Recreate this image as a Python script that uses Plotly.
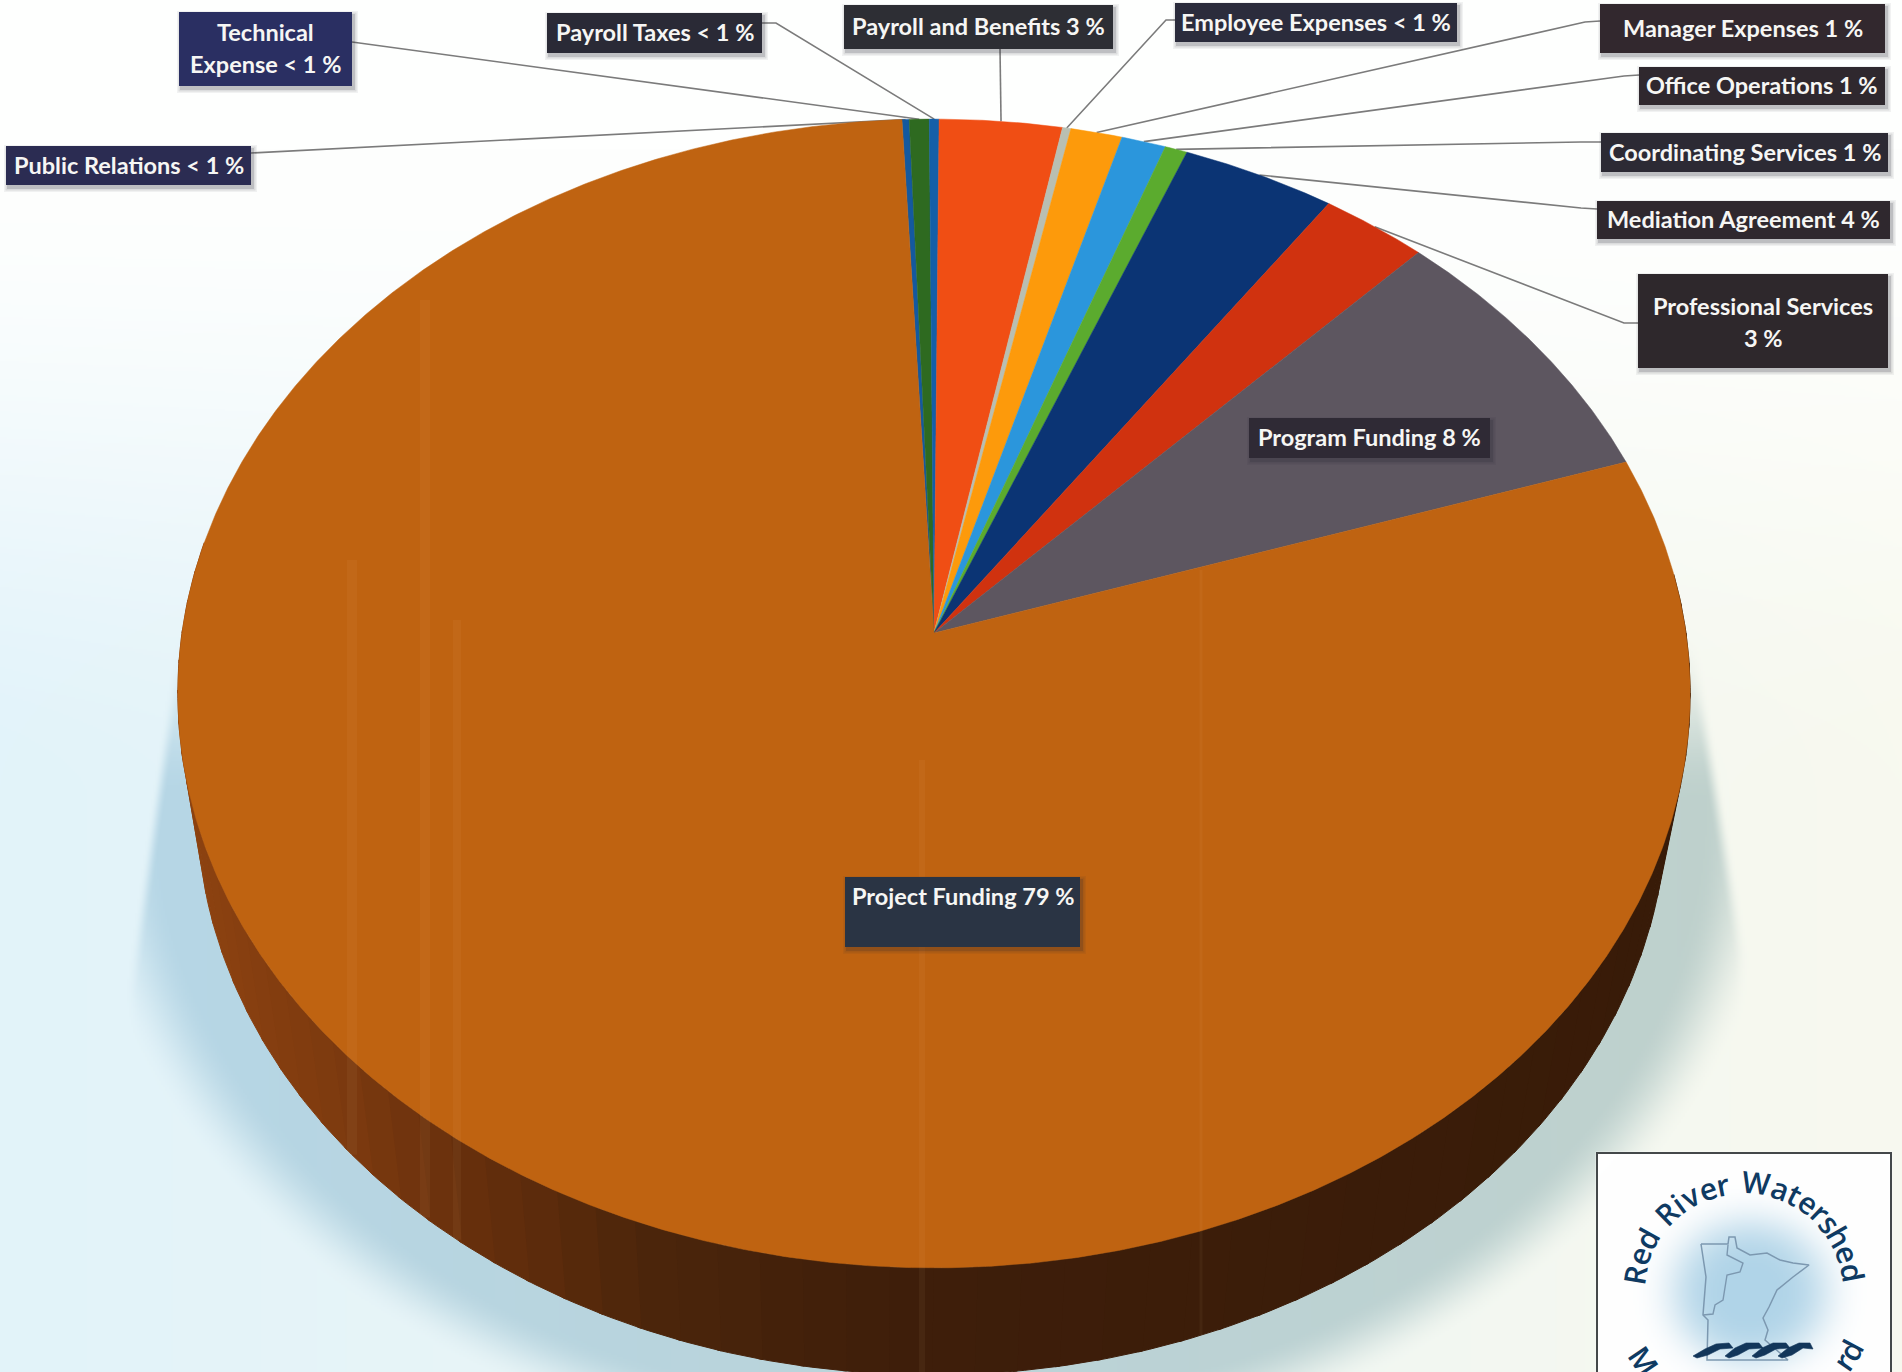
import base64
import math
import struct
import zlib

import numpy as np
import plotly.graph_objects as go

WIDTH, HEIGHT = 1902, 1372

# ---- budget shares, clockwise from the start of Public Relations ----
categories = [
    "Public Relations", "Technical Expense", "Payroll Taxes", "Payroll and Benefits",
    "Employee Expenses", "Manager Expenses", "Office Operations", "Coordinating Services",
    "Mediation Agreement", "Professional Services", "Program Funding", "Project Funding",
]
shares = [0.17, 0.47, 0.23, 2.90, 0.20, 1.22, 1.05, 0.53, 3.64, 2.53, 7.78, 79.30]
colors = [
    "#14599f", "#2e6a20", "#145fa8", "#f04e14", "#b9bfb2", "#fd9a0b",
    "#2b96dc", "#5bab2e", "#0b3474", "#d0320f", "#5d5660", "#bf6311",
]
start_angle = -2.7

label_texts = [
    ["Public Relations &lt; 1 %"], ["Technical", "Expense &lt; 1 %"], ["Payroll Taxes &lt; 1 %"],
    ["Payroll and Benefits 3 %"], ["Employee Expenses &lt; 1 %"], ["Manager Expenses 1 %"],
    ["Office Operations 1 %"], ["Coordinating Services 1 %"], ["Mediation Agreement 4 %"],
    ["Professional Services", "3 %"], ["Program Funding 8 %"], ["Project Funding 79 %"],
]
# left, top, right, bottom of each tag
label_boxes = [
    (6, 146, 251, 185), (179, 12, 352, 86), (547, 13, 762, 53), (844, 5, 1113, 49),
    (1175, 3, 1457, 42), (1600, 4, 1885, 53), (1639, 67, 1885, 105), (1601, 133, 1888, 172),
    (1597, 201, 1890, 239), (1638, 274, 1888, 368), (1249, 418, 1490, 458), (845, 877, 1080, 947),
]
label_fills = [
    "#2b2c52", "#2a2f62", "#2a2a36", "#2d2e34", "#2b2c3c", "#32282e",
    "#2f282e", "#2c2a34", "#2f282e", "#2e282c", "#2f2a35", "#2a3444",
]
label_text_y = [
    [165], [32, 64], [32], [26], [22], [28], [85], [152], [219], [306, 338], [437], [896],
]
# leader start on the tag and its elbow; None where a slice carries its own tag
leader_paths = [
    [(251, 153)], [(352, 42)], [(762, 23), (776, 23)], [(1000, 49)],
    [(1175, 20), (1166, 20)], [(1600, 21), (1585, 22)], [(1639, 75), (1624, 76)],
    [(1601, 142), (1581, 142)], [(1597, 209), (1581, 208)], [(1638, 323), (1624, 323)],
    None, None,
]

# ---- tilted disc: a circle seen in perspective ----
APEX_X, APEX_Y = 934.0, 633.0
SCALE_X, SCALE_Y, TILT = 752.0, 568.0, 0.1053
RIM_CX, RIM_CY = 934.0, 693.5
LOWER_CX, LOWER_CY, LOWER_RX, LOWER_RY = 932.0, 804.0, 735.0, 571.0

# pale vertical banding across the disc: x position, width, first row
band_x = [352, 425, 457, 922, 1201]
band_w = [10, 10, 8, 6, 3]
band_top = [560, 300, 620, 760, 570]


def project(theta_deg):
    t = np.radians(theta_deg)
    u, v = np.sin(t), np.cos(t)
    s = 1 + TILT * v
    return APEX_X + SCALE_X * u / s, APEX_Y - SCALE_Y * v / s


def lower_rim(theta_deg):
    x, y = project(theta_deg)
    return (LOWER_CX + (x - RIM_CX) * LOWER_RX / 756.0,
            LOWER_CY + (y - RIM_CY) * LOWER_RY / 574.5)


def lerp_stops(stops, x):
    xs = [s[0] for s in stops]
    return [float(np.interp(x, xs, [s[1][i] for s in stops])) for i in range(3)]


# ---- paper tone, cast shadow and the white logo panel as one bitmap ----
def smooth(a, b, x):
    t = np.clip((x - a) / (b - a), 0, 1)
    return t * t * (3 - 2 * t)


def paper_bitmap():
    h, w = HEIGHT // 2, WIDTH // 2
    yy, xx = np.mgrid[0:h, 0:w]
    xx = xx * 2.0 + 1
    yy = yy * 2.0 + 1
    tx = (xx / WIDTH)[..., None]
    lower = np.array([226, 243, 250.0]) * (1 - tx) + np.array([248, 249, 239.0]) * tx
    mix = smooth(150, 800, yy)[..., None]
    img = np.array([254, 255, 254.0]) * (1 - mix) + lower * mix

    d = np.sqrt(((xx - LOWER_CX) / LOWER_RX) ** 2 + ((yy - LOWER_CY) / LOWER_RY) ** 2)
    dist = (d - 1) * 700
    left_edge = 180 - np.clip(yy - 650, 0, 340) * 0.141
    right_edge = 1690 + np.clip(yy - 636, 0, 320) * 0.16
    side = smooth(-7, 7, xx - left_edge) * smooth(-8, 8, right_edge - xx)
    fade = 1 - smooth(35, 115, dist)
    shade = 0.8 * fade * side * smooth(630, 800, yy)
    tone = np.array([170, 208, 228.0]) * (1 - tx) + np.array([178, 198, 192.0]) * tx
    img = img * (1 - shade[..., None]) + tone * shade[..., None]

    panel = (xx >= 1597) & (xx <= 1891) & (yy >= 1153)
    img[panel] = 255
    glow = np.exp(-(((xx - 1750) / 80) ** 2 + ((yy - 1292) / 74) ** 2) ** 2)[..., None]
    glow = glow * panel[..., None]
    img = img * (1 - glow) + np.array([176, 212, 232.0]) * glow
    return np.clip(img, 0, 255).astype(np.uint8)


def png_uri(rgb):
    h, w, _ = rgb.shape
    raw = b"".join(b"\x00" + rgb[i].tobytes() for i in range(h))

    def chunk(tag, data):
        body = tag + data
        return struct.pack(">I", len(data)) + body + struct.pack(">I", zlib.crc32(body))

    data = (
        b"\x89PNG\r\n\x1a\n"
        + chunk(b"IHDR", struct.pack(">IIBBBBB", w, h, 8, 2, 0, 0, 0))
        + chunk(b"IDAT", zlib.compress(raw, 9))
        + chunk(b"IEND", b"")
    )
    return "data:image/png;base64," + base64.b64encode(data).decode()


fig = go.Figure()

# slice boundaries in degrees
bounds = [start_angle]
for value in shares:
    bounds.append(bounds[-1] + value * 3.6)
bounds[-1] = start_angle + 360

# leader lines run under the disc and end on the rim at each slice's mid angle
for i, path in enumerate(leader_paths):
    if path is None:
        continue
    ex, ey = project((bounds[i] + bounds[i + 1]) / 2)
    xs = [p[0] for p in path] + [float(ex)]
    ys = [p[1] for p in path] + [float(ey)]
    fig.add_trace(go.Scatter(x=xs, y=ys, mode="lines", line=dict(color="#7b7b7b", width=1.6),
                             hoverinfo="skip", showlegend=False))

# side wall of the disc, shaded from left to right
wall_stops = [(190, (140, 66, 16)), (330, (125, 58, 15)), (480, (100, 46, 12)),
              (650, (75, 37, 11)), (900, (62, 30, 10)), (1690, (56, 27, 8))]
wall_angles = np.arange(84, 282, 3.0)
for a, b in zip(wall_angles[:-1], wall_angles[1:]):
    seg = np.linspace(a, b + 0.3, 5)
    tx, ty = project(seg)
    bx, by = lower_rim(seg)
    r, g, bl = lerp_stops(wall_stops, float(np.mean(tx)))
    col = f"rgb({r:.0f},{g:.0f},{bl:.0f})"
    fig.add_trace(go.Scatter(
        x=np.concatenate([tx, bx[::-1]]), y=np.concatenate([ty, by[::-1]]),
        mode="lines", fill="toself", fillcolor=col, line=dict(color=col, width=1),
        hoverinfo="skip", showlegend=False))

# top face slices
for i, name in enumerate(categories):
    n = max(3, int((bounds[i + 1] - bounds[i]) / 0.25))
    seg = np.linspace(bounds[i], bounds[i + 1], n)
    ax, ay = project(seg)
    fig.add_trace(go.Scatter(
        x=np.concatenate([[APEX_X], ax, [APEX_X]]), y=np.concatenate([[APEX_Y], ay, [APEX_Y]]),
        mode="lines", fill="toself", fillcolor=colors[i],
        line=dict(color=colors[i], width=0.5), name=name,
        text=f"{name}: {shares[i]:.2f} %", hoverinfo="text", showlegend=False))

shapes = []
annotations = []

# banding stops at the lower edge of the wall
for bx0, bw, btop in zip(band_x, band_w, band_top):
    ratio = min(1.0, abs(bx0 - LOWER_CX) / LOWER_RX)
    bottom = LOWER_CY + LOWER_RY * math.sqrt(1 - ratio ** 2)
    shapes.append(dict(type="rect", x0=bx0 - bw / 2, x1=bx0 + bw / 2, y0=btop, y1=bottom,
                       fillcolor="rgba(255,214,150,0.05)", line=dict(width=0),
                       xref="x", yref="y"))

# tags with their soft drop shadow
for i, (x0, y0, x1, y1) in enumerate(label_boxes):
    for grow, alpha in ((4, 0.06), (2.5, 0.10), (1, 0.16)):
        shapes.append(dict(type="rect", x0=x0 - grow + 2, y0=y0 - grow + 3, x1=x1 + grow + 2,
                           y1=y1 + grow + 3, fillcolor=f"rgba(40,40,50,{alpha})",
                           line=dict(width=0), xref="x", yref="y"))
    shapes.append(dict(type="rect", x0=x0, y0=y0, x1=x1, y1=y1, fillcolor=label_fills[i],
                       line=dict(width=0), xref="x", yref="y"))
    for line, ty in zip(label_texts[i], label_text_y[i]):
        annotations.append(dict(x=(x0 + x1) / 2, y=ty, xref="x", yref="y", text=line,
                                showarrow=False, xanchor="center", yanchor="middle",
                                font=dict(family="Lato", size=23.5, color="#f6f6f4", weight=700)))

# ---- logo panel ----
logo_top_text = "Red River Watershed"
logo_bottom_text = "Management Board"
LOGO_CX, LOGO_CY = 1744.0, 1293.0
LOGO_INK = "#0f3a62"
narrow = {"i": 0.55, "r": 0.7, "t": 0.7, "s": 0.8, " ": 0.65, "W": 1.6, "M": 1.5, "R": 1.1, "B": 1.1, "m": 1.5}


def arc_letters(text, radius, first, last, lower):
    widths = [narrow.get(c, 1.0) for c in text]
    total = sum(widths)
    run = 0.0
    for ch, wd in zip(text, widths):
        mid = (run + wd / 2) / total
        run += wd
        ang = first + (last - first) * mid
        if ch == " ":
            continue
        if lower:
            px = LOGO_CX - radius * math.sin(math.radians(ang))
            py = LOGO_CY + radius * math.cos(math.radians(ang))
        else:
            px = LOGO_CX + radius * math.sin(math.radians(ang))
            py = LOGO_CY - radius * math.cos(math.radians(ang))
        if py > HEIGHT - 6:
            continue
        annotations.append(dict(x=px, y=py, xref="x", yref="y", text=ch, showarrow=False,
                                textangle=ang, xanchor="center", yanchor="middle",
                                font=dict(family="Open Sans", size=30, color=LOGO_INK, weight=600)))


arc_letters(logo_top_text, 111, -86, 84, False)
arc_letters(logo_bottom_text, 121, 62, -66, True)

state_outline = [
    (1701, 1244), (1728, 1244), (1729, 1237), (1735, 1237), (1737, 1248), (1750, 1255),
    (1767, 1253), (1780, 1260), (1793, 1263), (1809, 1265), (1793, 1277), (1777, 1290),
    (1769, 1307), (1763, 1318), (1768, 1330), (1765, 1340), (1788, 1360), (1788, 1360),
    (1707, 1360), (1708, 1320), (1703, 1315), (1706, 1277),
]
basin_divide = [
    (1728, 1245), (1727, 1255), (1743, 1263), (1740, 1272), (1727, 1275), (1723, 1300),
    (1715, 1305), (1713, 1314), (1703, 1315),
]
waves = [
    [(1693, 1356), (1705, 1349), (1716, 1344), (1729, 1343), (1733, 1348), (1720, 1349), (1708, 1355), (1697, 1358)],
    [(1725, 1356), (1735, 1348), (1746, 1343), (1759, 1343), (1763, 1348), (1749, 1349), (1738, 1355), (1729, 1358)],
    [(1752, 1356), (1762, 1348), (1773, 1343), (1786, 1343), (1790, 1348), (1776, 1349), (1765, 1355), (1756, 1358)],
    [(1778, 1356), (1788, 1348), (1799, 1343), (1810, 1343), (1813, 1349), (1803, 1348), (1792, 1355), (1782, 1358)],
]
for pts, wd in ((state_outline + state_outline[:1], 1.5), (basin_divide, 1.4)):
    fig.add_trace(go.Scatter(x=[p[0] for p in pts], y=[p[1] for p in pts], mode="lines",
                             line=dict(color="#7c98b0", width=wd), hoverinfo="skip", showlegend=False))
for pts in waves:
    fig.add_trace(go.Scatter(x=[p[0] for p in pts] + [pts[0][0]], y=[p[1] for p in pts] + [pts[0][1]],
                             mode="lines", fill="toself", fillcolor="#12365a",
                             line=dict(color="#12365a", width=0.6), hoverinfo="skip", showlegend=False))

shapes.append(dict(type="rect", x0=1597, y0=1153, x1=1891, y1=1380,
                   line=dict(color="#44484a", width=2), fillcolor="rgba(0,0,0,0)",
                   xref="x", yref="y"))

fig.update_layout(
    width=WIDTH, height=HEIGHT, autosize=False,
    margin=dict(l=0, r=0, t=0, b=0, pad=0),
    paper_bgcolor="white", plot_bgcolor="rgba(0,0,0,0)",
    xaxis=dict(range=[0, WIDTH], visible=False, fixedrange=True),
    yaxis=dict(range=[HEIGHT, 0], visible=False, fixedrange=True),
    showlegend=False, shapes=shapes, annotations=annotations,
    images=[dict(source=png_uri(paper_bitmap()), xref="x", yref="y", x=0, y=0,
                 sizex=WIDTH, sizey=HEIGHT, sizing="stretch", layer="below")],
)

fig.write_html("out.html", config={"displayModeBar": False})
